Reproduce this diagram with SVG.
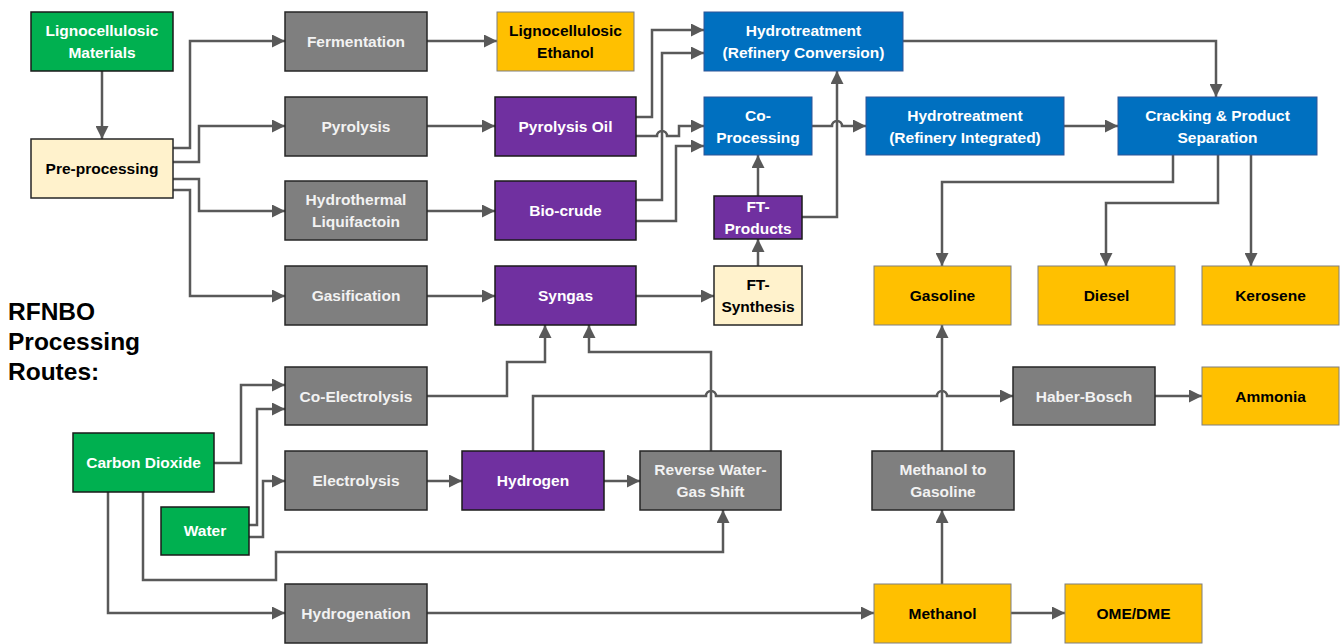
<svg xmlns="http://www.w3.org/2000/svg" width="1340" height="644" viewBox="0 0 1340 644">
<defs>
<marker id="arr" viewBox="0 0 10 10" refX="10" refY="5" markerWidth="13" markerHeight="13" markerUnits="userSpaceOnUse" orient="auto">
<path d="M0,0 L10,5 L0,10 z" fill="#595959"/>
</marker>
<style>
.c{fill:none;stroke:#595959;stroke-width:2.5;marker-end:url(#arr)}
.t{font-family:"Liberation Sans",Arial,sans-serif;font-weight:bold;font-size:15.5px;text-anchor:middle}
.green rect{fill:#00B050;stroke:#1a1a1a;stroke-width:1.5}
.green text{fill:#ffffff}
.gray rect{fill:#7F7F7F;stroke:#262626;stroke-width:1.5}
.gray text{fill:#F2F2F2}
.purple rect{fill:#7030A0;stroke:#1a1a1a;stroke-width:1.5}
.purple text{fill:#ffffff}
.blue rect{fill:#0070C0;stroke:#2F5597;stroke-width:1}
.blue text{fill:#ffffff}
.yellow rect{fill:#FFC000;stroke:#7F7F7F;stroke-width:1}
.yellow text{fill:#000000}
.cream rect{fill:#FFF2CC;stroke:#262626;stroke-width:1.5}
.cream text{fill:#000000}
.title{font-family:"Liberation Sans",Arial,sans-serif;font-weight:bold;font-size:24.5px;fill:#000}
</style>
</defs>
<rect width="1340" height="644" fill="#ffffff"/>
<g id="connectors">
<path class="c" d="M102,71 V139"/>
<path class="c" d="M173,148 H190 V41 H285"/>
<path class="c" d="M173,162 H199 V126 H285"/>
<path class="c" d="M173,179 H199 V211 H285"/>
<path class="c" d="M173,190 H190 V296 H285"/>
<path class="c" d="M427,41 H497"/>
<path class="c" d="M427,126 H495"/>
<path class="c" d="M427,211 H495"/>
<path class="c" d="M427,296 H495"/>
<path class="c" d="M636,117 H652 V30 H704"/>
<path class="c" d="M636,136 H657 A5,5 0 0 1 667,136 H679 V126 H704"/>
<path class="c" d="M636,200 H662 V53 H704"/>
<path class="c" d="M636,221 H676 V146 H704"/>
<path class="c" d="M636,296 H714"/>
<path class="c" d="M758,266 V239"/>
<path class="c" d="M758,196 V155"/>
<path class="c" d="M802,217 H837 V71"/>
<path class="c" d="M812,126 H832 A5,5 0 0 1 842,126 H866"/>
<path class="c" d="M903,41 H1216 V97"/>
<path class="c" d="M1064,126 H1118"/>
<path class="c" d="M1173,155 V182 H942 V266"/>
<path class="c" d="M1218,155 V203 H1106 V266"/>
<path class="c" d="M1251,155 V266"/>
<path class="c" d="M214,463 H241 V385 H285"/>
<path class="c" d="M249,525 H257 V409 H285"/>
<path class="c" d="M249,537 H263 V481 H285"/>
<path class="c" d="M143,492 V580 H276 V552 H723 V510"/>
<path class="c" d="M108,492 V613 H285"/>
<path class="c" d="M427,396 H507 V362 H545 V325"/>
<path class="c" d="M711,451 V352 H589 V325"/>
<path class="c" d="M533,451 V396 H706 A5,5 0 0 1 716,396 H937 A5,5 0 0 1 947,396 H1013"/>
<path class="c" d="M427,481 H462"/>
<path class="c" d="M604,481 H640"/>
<path class="c" d="M1155,396 H1202"/>
<path class="c" d="M427,613 H874"/>
<path class="c" d="M942,584 V510"/>
<path class="c" d="M942,451 V325"/>
<path class="c" d="M1011,613 H1065"/>
</g>
<g id="title"><text class="title" x="8" y="320">RFNBO</text><text class="title" x="8" y="350">Processing</text><text class="title" x="8" y="380">Routes:</text></g>
<g id="n-lig-mat" class="green"><rect x="31" y="12" width="142" height="59"/><text class="t" x="102" y="36">Lignocellulosic</text><text class="t" x="102" y="58">Materials</text></g>
<g id="n-pre" class="cream"><rect x="31" y="139" width="142" height="59"/><text class="t" x="102" y="174">Pre-processing</text></g>
<g id="n-ferm" class="gray"><rect x="285" y="12" width="142" height="59"/><text class="t" x="356" y="47">Fermentation</text></g>
<g id="n-pyro" class="gray"><rect x="285" y="97" width="142" height="59"/><text class="t" x="356" y="132">Pyrolysis</text></g>
<g id="n-htl" class="gray"><rect x="285" y="181" width="142" height="59"/><text class="t" x="356" y="205">Hydrothermal</text><text class="t" x="356" y="227">Liquifactoin</text></g>
<g id="n-gasif" class="gray"><rect x="285" y="266" width="142" height="59"/><text class="t" x="356" y="301">Gasification</text></g>
<g id="n-coel" class="gray"><rect x="285" y="367" width="142" height="58"/><text class="t" x="356" y="402">Co-Electrolysis</text></g>
<g id="n-elec" class="gray"><rect x="285" y="451" width="142" height="59"/><text class="t" x="356" y="486">Electrolysis</text></g>
<g id="n-hydrogenation" class="gray"><rect x="285" y="584" width="142" height="59"/><text class="t" x="356" y="619">Hydrogenation</text></g>
<g id="n-co2" class="green"><rect x="73" y="433" width="141" height="59"/><text class="t" x="143.5" y="468">Carbon Dioxide</text></g>
<g id="n-water" class="green"><rect x="161" y="507" width="88" height="48"/><text class="t" x="205" y="536">Water</text></g>
<g id="n-lig-eth" class="yellow"><rect x="497" y="12" width="137" height="59"/><text class="t" x="565.5" y="36">Lignocellulosic</text><text class="t" x="565.5" y="58">Ethanol</text></g>
<g id="n-pyoil" class="purple"><rect x="495" y="97" width="141" height="59"/><text class="t" x="565.5" y="132">Pyrolysis Oil</text></g>
<g id="n-biocrude" class="purple"><rect x="495" y="181" width="141" height="59"/><text class="t" x="565.5" y="216">Bio-crude</text></g>
<g id="n-syngas" class="purple"><rect x="495" y="266" width="141" height="59"/><text class="t" x="565.5" y="301">Syngas</text></g>
<g id="n-hydrogen" class="purple"><rect x="462" y="451" width="142" height="59"/><text class="t" x="533" y="486">Hydrogen</text></g>
<g id="n-rwgs" class="gray"><rect x="640" y="451" width="141" height="59"/><text class="t" x="710.5" y="475">Reverse Water-</text><text class="t" x="710.5" y="497">Gas Shift</text></g>
<g id="n-hrc" class="blue"><rect x="704" y="12" width="199" height="59"/><text class="t" x="803.5" y="36">Hydrotreatment</text><text class="t" x="803.5" y="58">(Refinery Conversion)</text></g>
<g id="n-coproc" class="blue"><rect x="704" y="97" width="108" height="58"/><text class="t" x="758" y="121">Co-</text><text class="t" x="758" y="143">Processing</text></g>
<g id="n-ftprod" class="purple"><rect x="714" y="196" width="88" height="43"/><text class="t" x="758" y="212">FT-</text><text class="t" x="758" y="234">Products</text></g>
<g id="n-ftsyn" class="cream"><rect x="714" y="266" width="88" height="59"/><text class="t" x="758" y="290">FT-</text><text class="t" x="758" y="312">Synthesis</text></g>
<g id="n-hri" class="blue"><rect x="866" y="97" width="198" height="58"/><text class="t" x="965" y="121">Hydrotreatment</text><text class="t" x="965" y="143">(Refinery Integrated)</text></g>
<g id="n-crack" class="blue"><rect x="1118" y="97" width="199" height="58"/><text class="t" x="1217.5" y="121">Cracking &amp; Product</text><text class="t" x="1217.5" y="143">Separation</text></g>
<g id="n-gasoline" class="yellow"><rect x="874" y="266" width="137" height="59"/><text class="t" x="942.5" y="301">Gasoline</text></g>
<g id="n-diesel" class="yellow"><rect x="1038" y="266" width="137" height="59"/><text class="t" x="1106.5" y="301">Diesel</text></g>
<g id="n-kerosene" class="yellow"><rect x="1202" y="266" width="137" height="59"/><text class="t" x="1270.5" y="301">Kerosene</text></g>
<g id="n-haber" class="gray"><rect x="1013" y="367" width="142" height="58"/><text class="t" x="1084" y="402">Haber-Bosch</text></g>
<g id="n-ammonia" class="yellow"><rect x="1202" y="367" width="137" height="58"/><text class="t" x="1270.5" y="402">Ammonia</text></g>
<g id="n-mtg" class="gray"><rect x="872" y="451" width="142" height="59"/><text class="t" x="943" y="475">Methanol to</text><text class="t" x="943" y="497">Gasoline</text></g>
<g id="n-methanol" class="yellow"><rect x="874" y="584" width="137" height="59"/><text class="t" x="942.5" y="619">Methanol</text></g>
<g id="n-omedme" class="yellow"><rect x="1065" y="584" width="137" height="59"/><text class="t" x="1133.5" y="619">OME/DME</text></g>
</svg>
